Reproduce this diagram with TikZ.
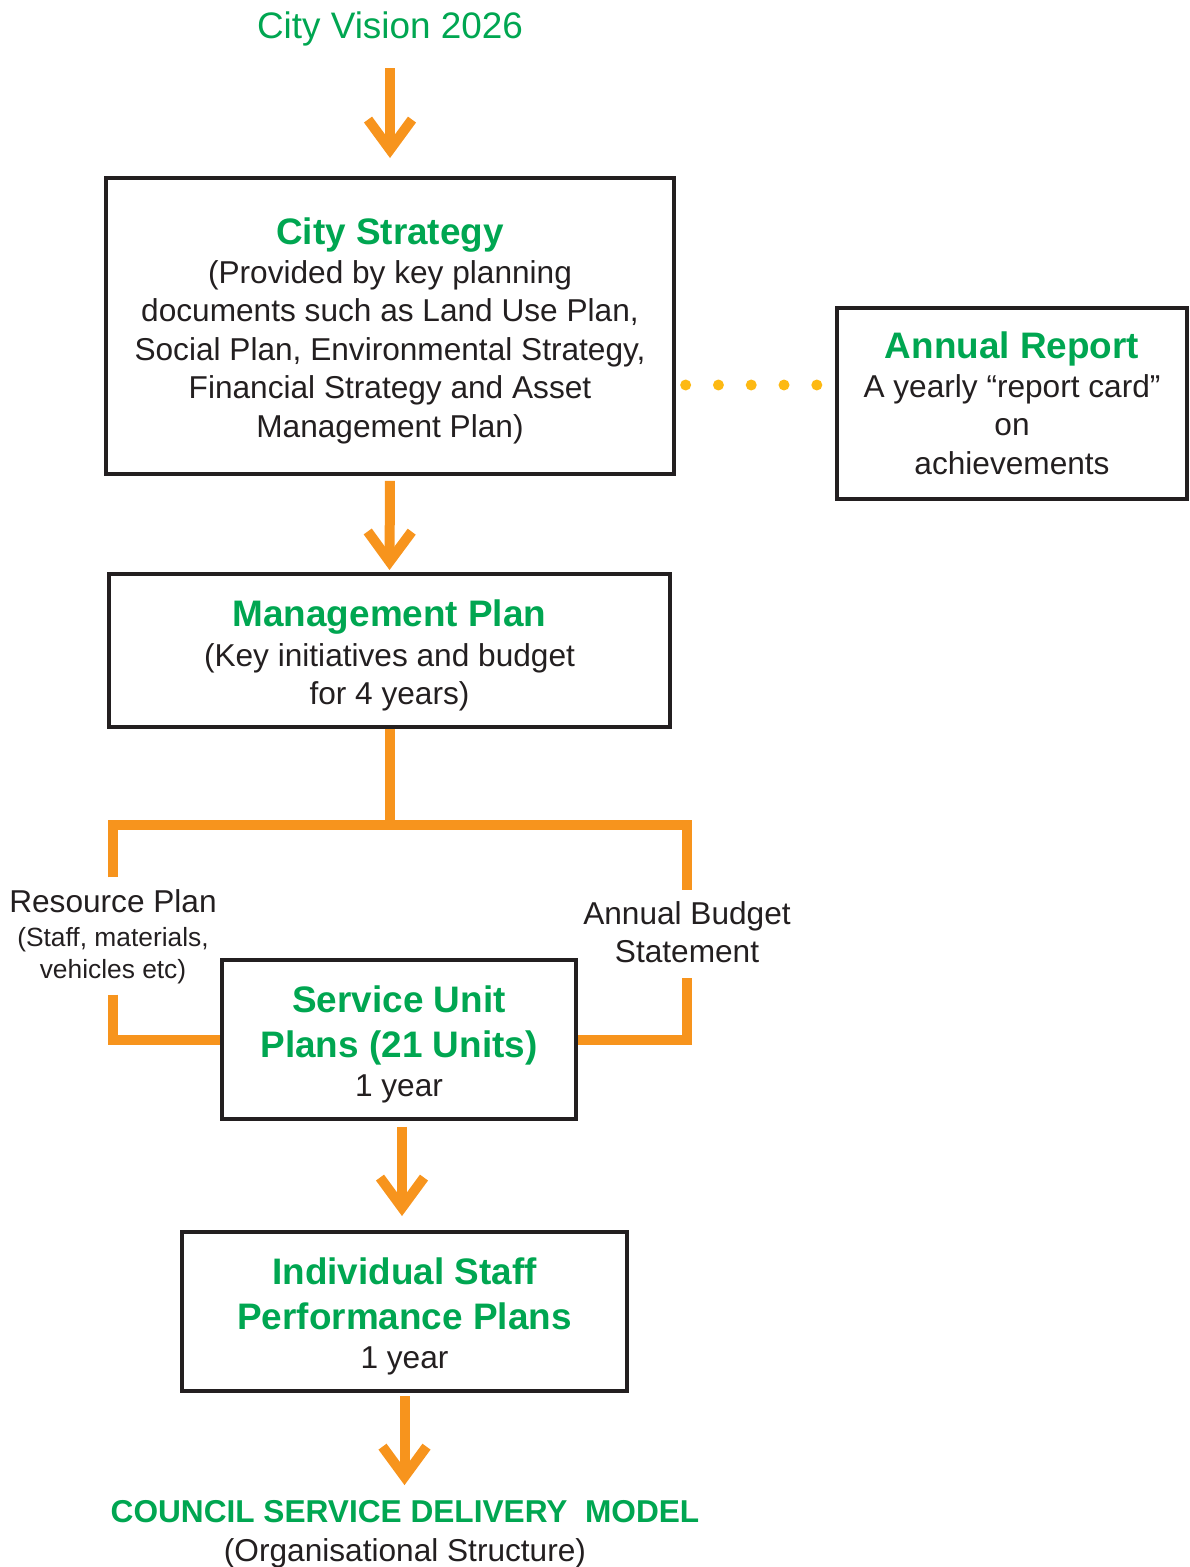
\documentclass[tikz,border=0pt]{standalone}
\usepackage{fontspec}
\setmainfont{Liberation Sans}
\usetikzlibrary{arrows.meta}

\definecolor{leafgreen}{HTML}{00A651}
\definecolor{planorange}{HTML}{F7941D}
\definecolor{dotyellow}{HTML}{FDB913}
\definecolor{inkblack}{HTML}{231F20}

% green headings inside the boxes
\newcommand{\ttl}{\fontsize{21}{25.6}\selectfont\bfseries\color{leafgreen}}
\newcommand{\smalltxt}{\fontsize{15}{18}\selectfont}
% extra room above the first line, pushes the text down a bit
\newcommand{\topgap}{\rule{0pt}{21pt}}

\begin{document}
\begin{tikzpicture}[x=0.02cm, y=-0.02cm]
  \tikzstyle{box}=[draw=inkblack, line width=0.08cm, align=center, inner sep=0pt, text=inkblack, font=\fontsize{18}{21.9}\selectfont]
  \tikzstyle{note}=[align=center, inner sep=0pt, text=inkblack, font=\fontsize{18}{21.9}\selectfont]
  \tikzstyle{link}=[draw=planorange, line width=0.2cm]
  \tikzstyle{arr}=[link, -{Straight Barb[length=0.6cm, width=0.88cm]}]
  \tikzstyle{dots}=[draw=dotyellow, line width=0.22cm, line cap=round, dash pattern=on 0pt off 0.656cm]

  \useasboundingbox (0,0) rectangle (1189,1567);

  \node[note, text=leafgreen, font=\fontsize{21}{25}\selectfont] (vision) at (390,29) {City Vision 2026};

  \node[box, minimum width=11.36cm, minimum height=5.92cm] (strat) at (390,326)
    {\topgap{\ttl City Strategy}\\(Provided by key planning\\documents such as Land Use Plan,\\Social Plan, Environmental Strategy,\\Financial Strategy and Asset\\Management Plan)};
  \node[box, minimum width=7cm, minimum height=3.82cm] (report) at (1012,403.5)
    {{\ttl Annual Report}\\A yearly ``report card''\\on\\achievements};
  \node[box, minimum width=11.22cm, minimum height=3.06cm] (mgmt) at (389.5,650.5)
    {\topgap{\ttl Management Plan}\\[0.8pt](Key initiatives and budget\\for 4 years)};
  \node[box, minimum width=7.08cm, minimum height=3.18cm] (unit) at (399,1039.5)
    {\topgap{\ttl Service Unit}\\[3.7pt]{\ttl Plans (21 Units)}\\1 year};
  \node[box, minimum width=8.9cm, minimum height=3.18cm] (staff) at (404.5,1311.5)
    {\topgap{\ttl Individual Staff}\\[3.7pt]{\ttl Performance Plans}\\1 year};

  \node[note, font=\fontsize{18}{18.2}\selectfont] (res) at (113,937)
    {Resource Plan\\[1.2pt]{\smalltxt (Staff, materials,}\\{\smalltxt vehicles etc)}};
  \node[note] (budget) at (687,932) {Annual Budget\\Statement};

  \node[note] (delivery) at (405,1534)
    {{\bfseries\color{leafgreen}COUNCIL SERVICE DELIVERY\ \ MODEL}\\(Organisational Structure)};

  \coordinate (fork) at (389.5,825);
  \coordinate (dotrow) at (0,385);

  % arrows down the chain
  \draw[arr, shorten <=0.43cm, shorten >=0.36cm] (vision.south) -- (strat.north);
  \draw[arr, shorten <=0.1cm, shorten >=0.04cm] (strat.south) -- (mgmt.north);
  \draw[arr, shorten <=0.12cm, shorten >=0.28cm] ([xshift=0.06cm]unit.south) -- ([xshift=0.06cm]unit.south |- staff.north);
  \draw[arr, shorten <=0.06cm, shorten >=0.3cm] (staff.south) -- (staff.south |- delivery.north);

  % the fork below the management plan
  \draw[link] (mgmt.south) -- (fork);
  \draw[link, shorten <=0.24cm, shorten >=0.22cm] (res.north) |- (fork) -| (budget.north);
  \draw[link, shorten <=0.2cm] (res.south) |- (unit.west);
  \draw[link, shorten <=0.3cm] (budget.south) |- (unit.east);

  \draw[dots, shorten <=0.194cm, shorten >=0.35cm] (strat.east |- dotrow) -- (report.west |- dotrow);
\end{tikzpicture}
\end{document}
